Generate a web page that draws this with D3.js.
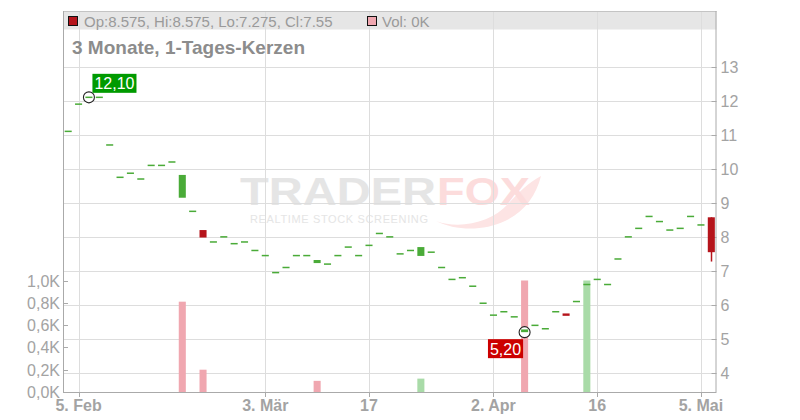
<!DOCTYPE html>
<html>
<head>
<meta charset="utf-8">
<script src="https://cdn.jsdelivr.net/npm/d3@7/dist/d3.min.js"></script>
<style>
html,body{margin:0;padding:0;background:#fff;}
svg{display:block;font-family:"Liberation Sans",Arial,sans-serif;}
</style>
</head>
<body>
<svg id="chart" width="800" height="420"></svg>
<script>
const dates = ["2025-02-04","2025-02-05","2025-02-06","2025-02-07","2025-02-10","2025-02-11","2025-02-12","2025-02-13","2025-02-14","2025-02-17","2025-02-18","2025-02-19","2025-02-20","2025-02-21","2025-02-24","2025-02-25","2025-02-26","2025-02-27","2025-02-28",
"2025-03-03","2025-03-04","2025-03-05","2025-03-06","2025-03-07","2025-03-10","2025-03-11","2025-03-12","2025-03-13","2025-03-14","2025-03-17","2025-03-18","2025-03-19","2025-03-20","2025-03-21","2025-03-24","2025-03-25","2025-03-26","2025-03-27","2025-03-28","2025-03-31",
"2025-04-01","2025-04-02","2025-04-03","2025-04-04","2025-04-07","2025-04-08","2025-04-09","2025-04-10","2025-04-11","2025-04-14","2025-04-15","2025-04-16","2025-04-17","2025-04-22","2025-04-23","2025-04-24","2025-04-25","2025-04-28","2025-04-29","2025-04-30",
"2025-05-02","2025-05-05","2025-05-06"];
const open  = [11.10,11.90,12.10,12.10,10.70,9.75,9.87,9.70,10.10,10.10,10.20,9.15,8.75,8.20,7.85,8.00,7.80,7.85,7.60,
7.45,6.95,7.10,7.45,7.45,7.23,7.20,7.45,7.70,7.45,7.75,8.10,8.00,7.50,7.60,7.44,7.55,7.10,6.75,6.80,6.55,
6.05,5.70,5.80,5.65,5.20,5.40,5.30,5.80,5.75,6.10,6.60,6.75,6.60,7.35,8.00,8.25,8.60,8.45,8.20,8.25,
8.60,8.35,8.575];
const high  = [11.10,11.90,12.10,12.10,10.70,9.75,9.87,9.70,10.10,10.10,10.20,9.82,8.75,8.20,7.85,8.00,7.80,7.85,7.60,
7.45,6.95,7.10,7.45,7.45,7.32,7.20,7.45,7.70,7.45,7.75,8.10,8.00,7.50,7.60,7.70,7.55,7.10,6.75,6.80,6.55,
6.05,5.70,5.80,5.65,5.28,5.40,5.30,5.80,5.75,6.10,6.60,6.75,6.60,7.35,8.00,8.25,8.60,8.45,8.20,8.25,
8.60,8.35,8.575];
const low   = [11.10,11.90,12.10,12.10,10.70,9.75,9.87,9.70,10.10,10.10,10.20,9.15,8.75,7.98,7.85,8.00,7.80,7.85,7.60,
7.45,6.95,7.10,7.45,7.45,7.23,7.20,7.45,7.70,7.45,7.75,8.10,8.00,7.50,7.60,7.44,7.55,7.10,6.75,6.80,6.55,
6.05,5.70,5.80,5.65,5.20,5.40,5.30,5.80,5.68,6.10,6.60,6.75,6.60,7.35,8.00,8.25,8.60,8.45,8.20,8.25,
8.60,8.35,7.275];
const close = [11.10,11.90,12.10,12.10,10.70,9.75,9.87,9.70,10.10,10.10,10.20,9.82,8.75,7.98,7.85,8.00,7.80,7.85,7.60,
7.45,6.95,7.10,7.45,7.45,7.32,7.20,7.45,7.70,7.45,7.75,8.10,8.00,7.50,7.60,7.70,7.55,7.10,6.75,6.80,6.55,
6.05,5.70,5.80,5.65,5.28,5.40,5.30,5.80,5.68,6.10,6.60,6.75,6.60,7.35,8.00,8.25,8.60,8.45,8.20,8.25,
8.60,8.35,7.55];
const volume = [0,0,0,0,0,0,0,0,0,0,0,0.81,0,0.20,0,0,0,0,0,
0,0,0,0,0,0.10,0,0,0,0,0,0,0,0,0,0.12,0,0,0,0,0,
0,0,0,0,1.00,0,0,0,0,0,1.00,0,0,0,0,0,0,0,0,0,
0,0,0];
const xTickDates  = ["2025-02-05","2025-03-03","2025-03-17","2025-04-02","2025-04-16","2025-05-05"];
const xTickLabels = ["5. Feb","3. Mär","17","2. Apr","16","5. Mai"];
const priceTicks = [4,5,6,7,8,9,10,11,12,13];
const volTicks = [0,0.2,0.4,0.6,0.8,1.0];
const legendText = "Op:8.575, Hi:8.575, Lo:7.275, Cl:7.55";
const volLegendText = "Vol: 0K";
const subtitle = "3 Monate, 1-Tages-Kerzen";
const maxLabel = "12,10", minLabel = "5,20";

const L = 63, R = 716.5, T = 11, B = 392;
const svg = d3.select("#chart");
const idx = d3.range(dates.length);
const x = d3.scaleBand().domain(idx).range([L, R]).paddingInner(0.32).paddingOuter(0.16);
const cx = i => x(i) + x.bandwidth() / 2;
const y = d3.scaleLinear().domain([4, 13]).range([373, 66.7]);
const yv = d3.scaleLinear().domain([0, 1]).range([B, 280.5]);

const GREEN = "#4aab38", RED = "#b5141b", GRID = "#dddddd", AX = "#aaaaaa", TXT = "#a3a3a3";

// header band
svg.append("rect").attr("x", L).attr("y", T).attr("width", R - L).attr("height", 18.5).attr("fill", "#e6e6e6");

// watermark
const wm = svg.append("g");
wm.append("path")
  .attr("d", "M436,221 C460,230 492,222 508,204 C518,193 528,183 541,176 C536,196 524,212 505,221 C484,231 456,231 436,221 Z")
  .attr("fill", "#fde4e4");
wm.append("text").attr("x", 240).attr("y", 205).attr("textLength", 196).attr("lengthAdjust", "spacingAndGlyphs")
  .attr("font-size", 39).attr("font-weight", "bold").attr("fill", "#e5e5e5").text("TRADER");
wm.append("text").attr("x", 437).attr("y", 205).attr("textLength", 93).attr("lengthAdjust", "spacingAndGlyphs")
  .attr("font-size", 39).attr("font-weight", "bold").attr("fill", "#fcdcdc").text("FOX");
wm.append("text").attr("x", 250).attr("y", 223).attr("textLength", 178).attr("lengthAdjust", "spacing")
  .attr("font-size", 11).attr("fill", "#e5e5e5").text("REALTIME STOCK SCREENING");

// grid
const tickIdx = xTickDates.map(d => dates.indexOf(d));
svg.append("g").selectAll("line").data(priceTicks).join("line")
  .attr("x1", L).attr("x2", R).attr("y1", d => Math.round(y(d)) + 0.5).attr("y2", d => Math.round(y(d)) + 0.5)
  .attr("stroke", GRID);
svg.append("g").selectAll("line").data(tickIdx).join("line")
  .attr("x1", d => Math.round(cx(d)) + 0.5).attr("x2", d => Math.round(cx(d)) + 0.5).attr("y1", T).attr("y2", B)
  .attr("stroke", GRID);

// frame
svg.append("line").attr("x1", L).attr("x2", R).attr("y1", T + 0.5).attr("y2", T + 0.5).attr("stroke", "#c4c4c4");
svg.append("line").attr("x1", L + 0.5).attr("x2", L + 0.5).attr("y1", T).attr("y2", B).attr("stroke", AX);
svg.append("line").attr("x1", R - 0.5).attr("x2", R - 0.5).attr("y1", T).attr("y2", B).attr("stroke", AX);
svg.append("line").attr("x1", L).attr("x2", R).attr("y1", B + 0.5).attr("y2", B + 0.5).attr("stroke", AX);

// axes ticks + labels
const gR = svg.append("g");
gR.selectAll("line").data(priceTicks).join("line")
  .attr("x1", R - 5).attr("x2", R).attr("y1", d => Math.round(y(d)) + 0.5).attr("y2", d => Math.round(y(d)) + 0.5).attr("stroke", AX);
gR.selectAll("text").data(priceTicks).join("text")
  .attr("x", R + 4).attr("y", d => y(d) + 6).attr("font-size", 16).attr("fill", TXT).text(d => d);

const gL = svg.append("g");
gL.selectAll("line").data(volTicks).join("line")
  .attr("x1", L).attr("x2", L + 5).attr("y1", d => Math.round(yv(d)) + 0.5).attr("y2", d => Math.round(yv(d)) + 0.5).attr("stroke", AX);
gL.selectAll("text").data(volTicks).join("text")
  .attr("x", L - 3).attr("y", d => yv(d) + 6).attr("text-anchor", "end").attr("font-size", 16).attr("fill", TXT)
  .text(d => d3.format(".1f")(d).replace(".", ",") + "K");

const gB = svg.append("g");
gB.selectAll("line").data(tickIdx).join("line")
  .attr("x1", d => Math.round(cx(d)) + 0.5).attr("x2", d => Math.round(cx(d)) + 0.5).attr("y1", B).attr("y2", B + 5).attr("stroke", AX);
gB.selectAll("text").data(tickIdx).join("text")
  .attr("x", d => cx(d)).attr("y", B + 19).attr("text-anchor", "middle").attr("font-size", 16).attr("font-weight", "bold")
  .attr("fill", TXT).text((d, i) => xTickLabels[i]);

// volume bars
svg.append("g").selectAll("rect").data(idx.filter(i => volume[i] > 0)).join("rect")
  .attr("x", i => x(i)).attr("width", x.bandwidth())
  .attr("y", i => yv(volume[i])).attr("height", i => B - yv(volume[i]))
  .attr("fill", i => (i > 0 && close[i] >= close[i - 1]) ? "#a9dba8" : "#f0a7b0");

// high/low markers
const iMax = d3.maxIndex(high), iMin = d3.minIndex(low);
[[iMax, high[iMax]], [iMin, low[iMin]]].forEach(([i, v]) => {
  svg.append("circle").attr("cx", cx(i)).attr("cy", y(v)).attr("r", 5.5)
    .attr("fill", "#fff").attr("stroke", "#222").attr("stroke-width", 1.1);
});

// candles
const gC = svg.append("g");
gC.selectAll("line").data(idx.filter(i => high[i] > Math.max(open[i], close[i]) || low[i] < Math.min(open[i], close[i]))).join("line")
  .attr("x1", i => Math.round(cx(i)) + 0.5).attr("x2", i => Math.round(cx(i)) + 0.5)
  .attr("y1", i => y(high[i])).attr("y2", i => y(low[i]))
  .attr("stroke", i => close[i] >= open[i] ? GREEN : RED).attr("stroke-width", 1.5);
gC.selectAll("rect").data(idx).join("rect")
  .attr("x", i => x(i)).attr("width", x.bandwidth())
  .attr("y", i => Math.min(y(open[i]), y(close[i])) - (Math.abs(y(open[i]) - y(close[i])) < 1.5 ? 0.75 : 0))
  .attr("height", i => Math.max(1.5, Math.abs(y(open[i]) - y(close[i]))))
  .attr("fill", i => close[i] >= open[i] ? GREEN : RED);

// marker labels
function label(i, v, txt, color, above) {
  const g = svg.append("g");
  const t = g.append("text").attr("font-size", 16).attr("fill", "#fff").text(txt);
  const w = t.node().getComputedTextLength() + 4, h = 19;
  const bx = above ? cx(i) + 3.5 : cx(i) - 1.5 - w;
  const by = above ? y(v) - 4.5 - h : y(v) + 7;
  g.insert("rect", "text").attr("x", bx).attr("y", by).attr("width", w).attr("height", h).attr("fill", color);
  t.attr("x", bx + 2).attr("y", by + 15.5);
}
label(iMax, high[iMax], maxLabel, "#009a00", true);
label(iMin, low[iMin], minLabel, "#cc0000", false);

// legend
svg.append("rect").attr("x", 68.5).attr("y", 16.5).attr("width", 9).attr("height", 9).attr("fill", RED).attr("stroke", "#111");
svg.append("text").attr("x", 84).attr("y", 26.5).attr("font-size", 15).attr("fill", "#9a9a9a").text(legendText);
svg.append("rect").attr("x", 367.5).attr("y", 16.5).attr("width", 9).attr("height", 9).attr("fill", "#f0a7b0").attr("stroke", "#111");
svg.append("text").attr("x", 382).attr("y", 26.5).attr("font-size", 15).attr("fill", "#9a9a9a").text(volLegendText);
svg.append("text").attr("x", 72).attr("y", 54).attr("font-size", 19).attr("font-weight", "bold").attr("fill", "#8c8c8c").text(subtitle);
</script>
</body>
</html>
